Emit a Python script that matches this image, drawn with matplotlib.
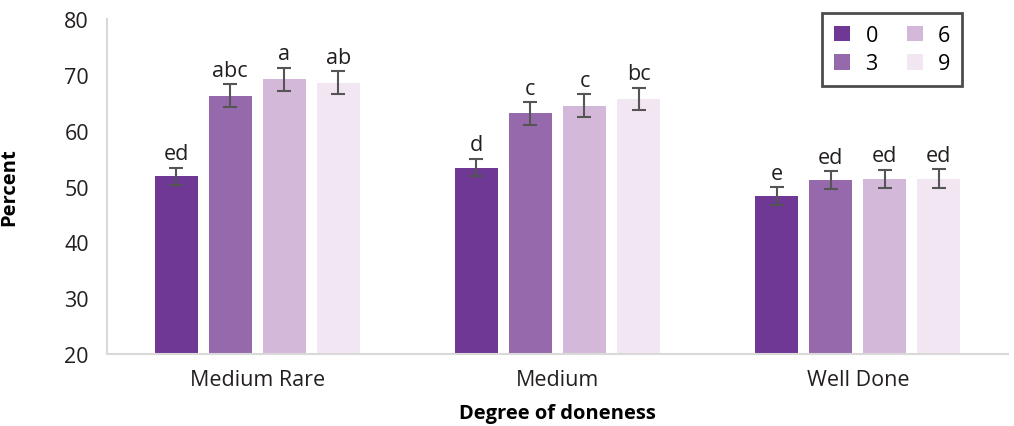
import matplotlib.pyplot as plt
import numpy as np

# === Dati ===
categories = ["Medium Rare", "Medium", "Well Done"]
series_labels = ["0", "3", "6", "9"]
values = {
    "0": [51.8, 53.4, 48.3],
    "3": [66.3, 63.1, 51.1],
    "6": [69.2, 64.5, 51.4],
    "9": [68.6, 65.7, 51.4],
}
errors = {
    "0": [1.6, 1.6, 1.6],
    "3": [2.0, 2.0, 1.6],
    "6": [2.1, 2.0, 1.6],
    "9": [2.1, 2.0, 1.7],
}
letters = {
    "0": ["ed", "d", "e"],
    "3": ["abc", "c", "ed"],
    "6": ["a", "c", "ed"],
    "9": ["ab", "bc", "ed"],
}
colors = ["#6e3894", "#9669ac", "#d4b8d9", "#f2e6f2"]

plt.rcParams['font.family'] = ['Open Sans', 'DejaVu Sans']

fig = plt.figure(figsize=(10.14, 4.27), dpi=100)
ax = fig.add_axes([0.1055, 0.1686, 0.8885, 0.7844])

x = np.arange(len(categories))
step = 0.18
width = 0.143

for i, s in enumerate(series_labels):
    pos = x + (i - 1.5) * step
    ax.bar(pos, values[s], width, bottom=0, color=colors[i], label=s, zorder=2)
    ax.errorbar(pos, values[s], yerr=errors[s], fmt='none', ecolor='#555555',
                elinewidth=1.5, capsize=5, capthick=1.5, zorder=3)
    for px, v, e, t in zip(pos, values[s], errors[s], letters[s]):
        ax.text(px, v + e + 0.6, t, ha='center', va='bottom', fontsize=15.5,
                color='#231f20')

ax.set_xlim(-0.5, 2.5)
ax.set_ylim(20, 80)
ax.set_yticks(range(20, 81, 10))
ax.set_xticks(x)
ax.set_xticklabels(categories)
ax.tick_params(axis='both', length=0, labelsize=15.5, colors='#231f20')
ax.tick_params(axis='y', pad=13)
ax.tick_params(axis='x', pad=11)

for sp in ['top', 'right']:
    ax.spines[sp].set_visible(False)
for sp in ['left', 'bottom']:
    ax.spines[sp].set_color('#d9d9d9')
    ax.spines[sp].set_linewidth(1.5)

ax.set_ylabel("Percent", fontsize=14.5, fontweight='bold')
ax.yaxis.set_label_coords(-0.097, 0.5)
ax.set_xlabel("Degree of doneness", fontsize=14.5, fontweight='bold', labelpad=9)

leg = ax.legend(ncol=2, loc='upper right', bbox_to_anchor=(0.949, 0.967),
                bbox_transform=fig.transFigure, frameon=True, fancybox=False,
                fontsize=15.5, handlelength=0.75, handleheight=0.75,
                columnspacing=1.35, handletextpad=0.7, borderpad=0.55,
                labelspacing=0.35, borderaxespad=0)
leg.get_frame().set_edgecolor('#231f20')
leg.get_frame().set_linewidth(2)

fig.savefig("out.png", dpi=100)
